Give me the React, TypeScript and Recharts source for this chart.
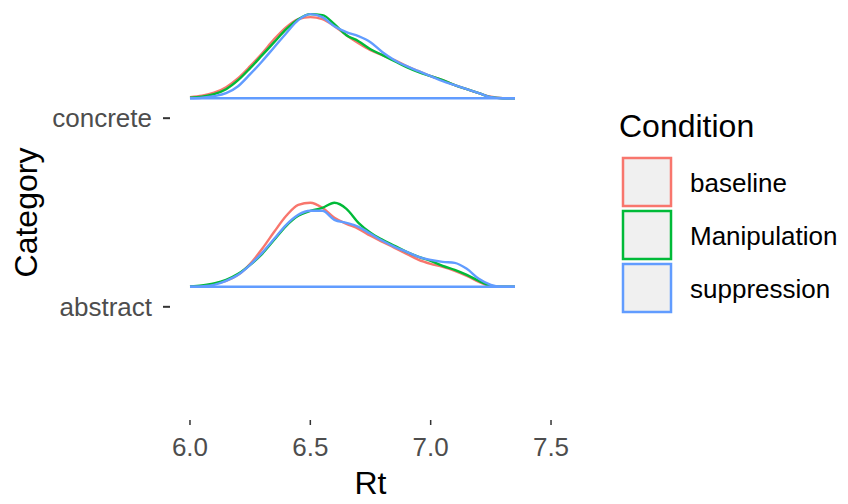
import { ComposedChart, Line, XAxis, YAxis, ReferenceLine, Label } from 'recharts'

// Rt grid the ridges are sampled on
const rt = [
  6.0, 6.05, 6.1, 6.15, 6.2, 6.25, 6.3, 6.35, 6.4, 6.45, 6.5, 6.55, 6.6, 6.65,
  6.7, 6.75, 6.8, 6.85, 6.9, 6.95, 7.0, 7.05, 7.1, 7.15, 7.2, 7.25, 7.3, 7.35,
]

const categories = ['abstract', 'concrete']
const conditions = ['baseline', 'Manipulation', 'suppression']
const colors = ['#F8766D', '#00BA38', '#619CFF']
const xTicks = [6.0, 6.5, 7.0, 7.5]

// ridge heights
const concreteBaseline = [1, 2.5, 5.5, 11, 20, 32, 45, 59, 71, 79, 81, 79, 72, 63, 55, 48, 43, 38, 32, 27, 22, 18, 13, 9, 5, 1.5, 0, 0]
const concreteManipulation = [0.5, 1.5, 4, 9, 18, 30, 43, 56, 69, 79, 84, 83, 74, 63, 57, 49, 43, 37, 31, 26, 22, 18, 13, 9, 5, 1, 0, 0]
const concreteSuppression = [0, 0.5, 2, 5, 12, 24, 37, 51, 65, 78, 84, 81, 72, 66, 62, 56, 46, 38, 32, 27, 22, 17, 13, 9, 5, 1, 0, 0]

const abstractBaseline = [0.5, 1, 3, 6, 12, 23, 38, 55, 71, 82, 84, 79, 69, 63, 58, 51, 45, 39, 33, 27, 23, 20, 16, 11, 5, 0.5, 0, 0]
const abstractManipulation = [0.5, 1.5, 3.5, 7, 13, 22, 33, 47, 61, 71, 76, 79, 84, 78, 64, 54, 47, 41, 35, 30, 26, 21, 17, 12, 6, 1, 0, 0]
const abstractSuppression = [0, 0.5, 2, 6, 12, 22, 34, 48, 62, 72, 76, 76, 67, 64, 60, 53, 46, 40, 35, 30, 27, 25, 24, 18, 8, 2, 0, 0]

const series: Record<string, number[][]> = {
  abstract: [abstractBaseline, abstractManipulation, abstractSuppression],
  concrete: [concreteBaseline, concreteManipulation, concreteSuppression],
}

const LIFT = 0.106
const SCALE = 1 / 188.6

const data = rt.map((x, i) => {
  const row: Record<string, number> = { rt: x }
  categories.forEach((cat, ci) => {
    conditions.forEach((cond, k) => {
      row[`${cat}_${cond}`] = ci + 1 + LIFT + series[cat][k][i] * SCALE
    })
  })
  return row
})

const font = '"Liberation Sans", Arial, Helvetica, sans-serif'

function CategoryLabel(props: any) {
  const vb = props.viewBox || { x: 0, y: 0, height: 0 }
  const x = vb.x + 37
  const y = vb.y + vb.height / 2
  return (
    <text x={x} y={y} transform={`rotate(-90 ${x} ${y})`} textAnchor="middle" fontSize={32} fill="#000" fontFamily={font}>
      Category
    </text>
  )
}

export default function App() {
  return (
    <div style={{ position: 'absolute', left: 0, top: 0, width: 848, height: 504, background: '#fff', fontFamily: font }}>
      <ComposedChart width={848} height={504} data={data} margin={{ top: 5, right: 277, bottom: 0, left: 0 }}>
        <XAxis
          dataKey="rt"
          type="number"
          domain={[5.917, 7.583]}
          ticks={xTicks}
          tickFormatter={(v: number) => v.toFixed(1)}
          axisLine={false}
          tickLine={{ stroke: '#333', strokeWidth: 1.5 }}
          tickSize={5}
          tickMargin={13}
          height={84}
          tick={{ fill: '#4D4D4D', fontSize: 26, fontFamily: font }}
          allowDataOverflow
        >
          <Label value="Rt" position="insideBottom" offset={10} fontSize={32} fill="#000" fontFamily={font} />
        </XAxis>
        <YAxis
          type="number"
          domain={[0.4, 2.6]}
          ticks={[1, 2]}
          tickFormatter={(v: number) => categories[v - 1]}
          axisLine={false}
          tickLine={{ stroke: '#333', strokeWidth: 2 }}
          tickSize={7}
          tickMargin={11}
          width={170}
          tick={{ fill: '#4D4D4D', fontSize: 26, fontFamily: font }}
          allowDataOverflow
        >
          <Label content={CategoryLabel} />
        </YAxis>
        {categories.map((cat) =>
          conditions.map((cond, k) => (
            <Line
              key={`${cat}_${cond}`}
              dataKey={`${cat}_${cond}`}
              type="monotone"
              stroke={colors[k]}
              strokeWidth={2.4}
              dot={false}
              activeDot={false}
              isAnimationActive={false}
            />
          ))
        )}
        {categories.map((cat, ci) => (
          <ReferenceLine
            key={`base_${cat}`}
            segment={[
              { x: rt[0], y: ci + 1 + LIFT },
              { x: rt[rt.length - 1], y: ci + 1 + LIFT },
            ]}
            stroke={colors[2]}
            strokeWidth={2.4}
          />
        ))}
      </ComposedChart>
      <svg width={848} height={504} style={{ position: 'absolute', left: 0, top: 0, pointerEvents: 'none' }}>
        <text x={619} y={137} fontSize={32} fill="#000" fontFamily={font}>
          Condition
        </text>
        {conditions.map((cond, k) => (
          <g key={cond}>
            <rect x={623} y={158 + k * 53} width={48} height={48} fill="#F0F0F0" stroke={colors[k]} strokeWidth={2.5} />
            <text x={690} y={192 + k * 53} fontSize={26} fill="#000" fontFamily={font}>
              {cond}
            </text>
          </g>
        ))}
      </svg>
    </div>
  )
}
